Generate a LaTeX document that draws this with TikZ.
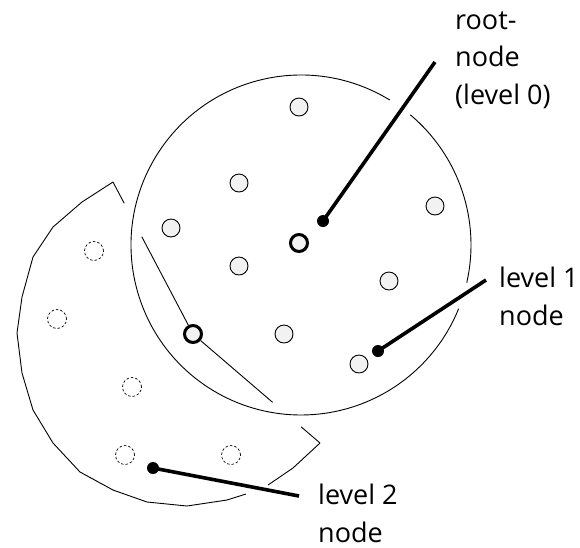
\documentclass[tikz,border=0pt]{standalone}
\usepackage{fontspec}
\setmainfont{Open Sans}
\usetikzlibrary{calc}
\definecolor{nodefill}{HTML}{F2F2F2}
\tikzset{
  lvlone/.style={circle,draw=black,line width=0.9pt,fill=nodefill,minimum size=18pt,inner sep=0pt},
  thickring/.style={circle,draw=black,line width=3pt,fill=nodefill,minimum size=17pt,inner sep=0pt},
  lvltwo/.style={circle,draw=black,line width=0.7pt,dash pattern=on 2.5pt off 2pt,minimum size=19pt,inner sep=0pt},
  thinline/.style={line width=0.9pt},
  pointer/.style={line width=3.6pt},
  dot/.style={circle,fill=black,minimum size=12pt,inner sep=0pt},
  lbl/.style={anchor=base west,inner sep=0pt,align=left,font=\fontsize{27}{37.5}\selectfont}
}
\begin{document}
\begin{tikzpicture}[x=1pt,y=-1pt]
\useasboundingbox (0,0) rectangle (580,547);
% big circle (level 0 region) with gaps
\draw[thinline] (301,245) ++(-58.5:170) arc[start angle=-58.5,end angle=-338,radius=170];
\draw[thinline] (301,245) ++(12.8:170) arc[start angle=12.8,end angle=-50,radius=170];
% nodes inside
\node[lvlone] (n1) at (299,107) {};
\node[lvlone] (n2) at (239,183) {};
\node[lvlone] (n3) at (435,206) {};
\node[lvlone] (n4) at (171,228) {};
\node[lvlone] (n5) at (239,266) {};
\node[lvlone] (n6) at (389,281) {};
\node[lvlone] (n7) at (284,334) {};
\node[lvlone] (n8) at (359,364) {};
\node[thickring] (root) at (299,243) {};
\node[thickring] (l1) at (193,334) {};
% level 2 nodes
\node[lvltwo] (m1) at (94,251) {};
\node[lvltwo] (m2) at (57,319) {};
\node[lvltwo] (m3) at (132,387) {};
\node[lvltwo] (m4) at (125,455) {};
\node[lvltwo] (m5) at (231,455) {};
% sector around level 1 node
\coordinate (A) at (113,182);
\coordinate (B) at (320,443);
\draw[thinline] (A) -- (82,202) -- (53,227) -- (33,257) -- (22,297) -- (17,333) -- (22,373) -- (33,410) -- (53,443) -- (80,472) -- (113,490) -- (147,502) -- (187,506) -- (227,500) -- (246,494);
\draw[thinline] (268,485) -- (293,468) -- (B);
\draw[thinline] (A) -- ($(A)!0.14!(l1)$);
\draw[thinline] ($(A)!0.36!(l1)$) -- (l1);
\draw[thinline] (l1) -- ($(l1)!0.627!(B)$);
\draw[thinline] ($(l1)!0.851!(B)$) -- (B);
% pointers and labels
\node[dot] (d0) at (323,221) {};
\coordinate (e0) at (435,62);
\draw[pointer] (d0.center) -- (e0);
\node[lbl] (t0) at (455,104) {root-\\node\\(level 0)};
\node[dot] (d1) at (378,351) {};
\coordinate (e1) at (486,280);
\draw[pointer] (d1.center) -- (e1);
\node[lbl] (t1) at (499,325) {level 1\\node};
\node[dot] (d2) at (153,468) {};
\coordinate (e2) at (299,496);
\draw[pointer] (d2.center) -- (e2);
\node[lbl] (t2) at (318,542) {level 2\\node};
\end{tikzpicture}
\end{document}
